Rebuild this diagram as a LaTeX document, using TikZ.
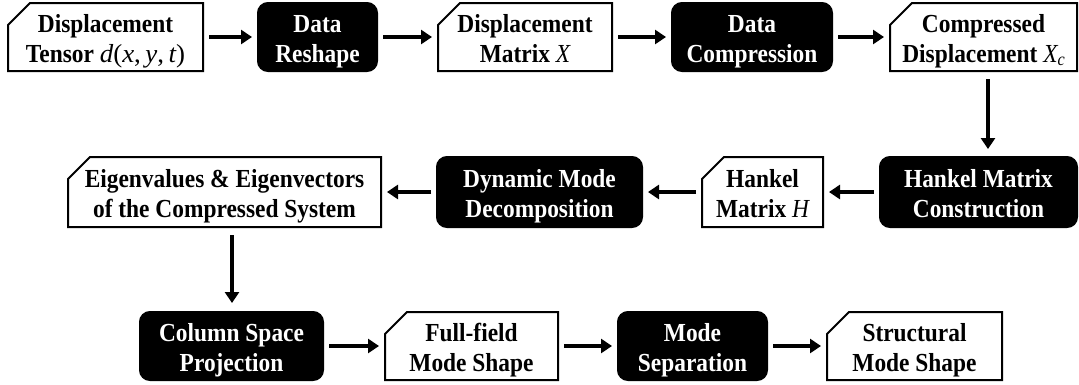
\documentclass[tikz,border=0pt]{standalone}
\usepackage{fontspec}
\usepackage{graphicx}
\setmainfont{Liberation Serif}
\usetikzlibrary{arrows.meta,calc}
\newcommand\mvar[1]{{\mdseries\itshape #1}}
\newcommand\twolines[2]{\raisebox{-4pt}[\height][\depth]{\scalebox{0.9}[1]{\begin{tabular}{@{}c@{}}#1\\#2\end{tabular}}}}
\begin{document}
\begin{tikzpicture}[x=1pt,y=-1pt,
  base/.style={font=\fontsize{26}{30}\selectfont\bfseries, align=center, inner sep=0pt, rectangle},
  datab/.style={base, outer sep=0pt},
  procb/.style={base, draw=black, line width=2pt, fill=black, text=white, rounded corners=10pt, outer sep=0pt},
  outline/.style={line width=2pt, line join=miter},
  arr/.style={line width=3.5pt, -{Triangle[length=11pt,width=14pt]}, shorten <=6pt, shorten >=6pt}
]
\useasboundingbox (0,0) rectangle (1079,384);
% row 1
\node[datab, minimum width=195pt, minimum height=68pt] (b1) at (105.5,37) {\twolines{Displacement}{Tensor \scalebox{1.15}[1]{\mdseries\itshape d\upshape(\itshape x\upshape,\,\itshape y\upshape,\,\itshape t\upshape)}}};
\node[procb, minimum width=119pt, minimum height=68pt] (b2) at (317.5,37) {\twolines{Data}{Reshape}};
\node[datab, minimum width=174pt, minimum height=68pt] (b3) at (525,37) {\twolines{Displacement}{Matrix \mvar{X}}};
\node[procb, minimum width=160pt, minimum height=68pt] (b4) at (752,37) {\twolines{Data}{Compression}};
\node[datab, minimum width=187pt, minimum height=68pt] (b5) at (983.5,37) {\twolines{Compressed}{Displacement \mvar{X}\raisebox{-0.3ex}{\fontsize{18}{18}\selectfont\mdseries\itshape c}}};
% row 2
\node[procb, minimum width=197pt, minimum height=70pt] (b6) at (978.5,192) {\twolines{Hankel Matrix}{Construction}};
\node[datab, minimum width=121pt, minimum height=70pt] (b7) at (762.5,192) {\twolines{Hankel}{Matrix \mvar{H}}};
\node[procb, minimum width=205pt, minimum height=70pt] (b8) at (539.5,192) {\twolines{Dynamic Mode}{Decomposition}};
\node[datab, minimum width=313pt, minimum height=70pt] (b9) at (224.5,192) {\twolines{Eigenvalues \& Eigenvectors}{of the Compressed System}};
% row 3
\node[procb, minimum width=183pt, minimum height=68pt] (b10) at (231.5,346) {\twolines{Column Space}{Projection}};
\node[datab, minimum width=173pt, minimum height=68pt] (b11) at (471.5,346) {\twolines{Full-field}{Mode Shape}};
\node[procb, minimum width=149pt, minimum height=68pt] (b12) at (692.5,346) {\twolines{Mode}{Separation}};
\node[datab, minimum width=175pt, minimum height=68pt] (b13) at (914.5,346) {\twolines{Structural}{Mode Shape}};
% outlines of data boxes (cut top-left corner)
\foreach \n in {b1,b3,b5,b7,b9,b11,b13}
  \draw[outline] ([yshift=-22pt]\n.north west) -- ([xshift=22pt]\n.north west) -- (\n.north east) -- (\n.south east) -- (\n.south west) -- cycle;
% connectors
\coordinate (vx1) at (988,0);
\coordinate (vx2) at (232,0);
\draw[arr] (b1) -- (b2);
\draw[arr] (b2) -- (b3);
\draw[arr] (b3) -- (b4);
\draw[arr] (b4) -- (b5);
\draw[arr, shorten <=8pt, shorten >=8pt] (b5.south -| vx1) -- (b6.north -| vx1);
\draw[arr] (b6) -- (b7);
\draw[arr] (b7) -- (b8);
\draw[arr] (b8) -- (b9);
\draw[arr, shorten <=8pt, shorten >=9pt] (b9.south -| vx2) -- (b10.north -| vx2);
\draw[arr] (b10) -- (b11);
\draw[arr] (b11) -- (b12);
\draw[arr] (b12) -- (b13);
\end{tikzpicture}
\end{document}
